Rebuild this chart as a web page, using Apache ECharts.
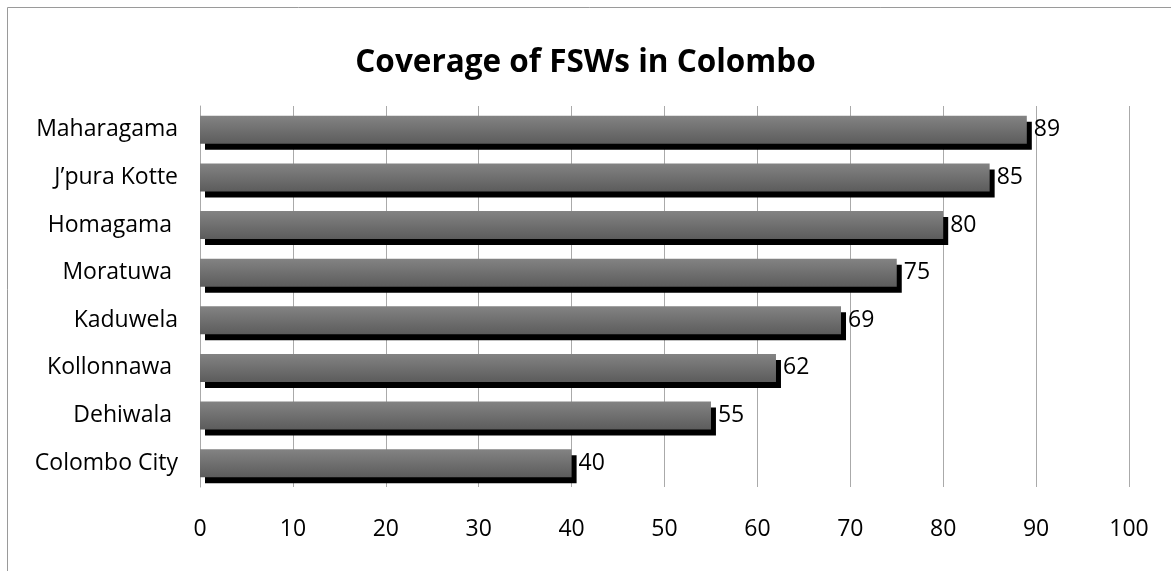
<!DOCTYPE html>
<html>
<head>
<meta charset="utf-8">
<script src="https://cdn.jsdelivr.net/npm/echarts@6/dist/echarts.min.js"></script>
<style>
  html, body { margin: 0; padding: 0; background: #fff; }
  #chart { width: 1171px; height: 571px; }
</style>
</head>
<body>
<div id="chart"></div>
<script>
// Districts, listed top to bottom
const districts = ['Maharagama', 'J\u2019pura Kotte', 'Homagama ', 'Moratuwa ', 'Kaduwela', 'Kollonnawa ', 'Dehiwala ', 'Colombo City'];
// Coverage (%) for each district
const coverage = [89, 85, 80, 75, 69, 62, 55, 40];
// Value axis ticks
const axisMin = 0;
const axisMax = 100;
const axisStep = 10;

const FONT = '"Open Sans", "Noto Sans", sans-serif';

const chart = echarts.init(document.getElementById('chart'), null, { renderer: 'canvas' });

chart.setOption({
  animation: false,
  backgroundColor: '#ffffff',
  title: {
    text: 'Coverage of FSWs in Colombo',
    left: 'center',
    top: 42,
    textStyle: { fontFamily: FONT, fontSize: 31.5, fontWeight: 'bold', color: '#000' }
  },
  graphic: [{
    type: 'rect',
    silent: true,
    shape: { x: 7.5, y: 7.5, width: 1300, height: 1300 },
    style: { fill: 'none', stroke: '#9a9a9a', lineWidth: 1 }
  }],
  grid: { left: 200, right: 42, top: 106, bottom: 84, containLabel: false },
  xAxis: {
    type: 'value',
    min: axisMin,
    max: axisMax,
    interval: axisStep,
    axisLine: { show: false },
    axisTick: { show: false },
    splitLine: { show: true, lineStyle: { color: '#aaaaaa', width: 1 } },
    axisLabel: { fontFamily: FONT, fontSize: 23, color: '#000', margin: 31 }
  },
  yAxis: {
    type: 'category',
    inverse: true,
    data: districts,
    axisLine: { show: true, lineStyle: { color: '#aaaaaa', width: 1 } },
    axisTick: { show: false },
    axisLabel: { fontFamily: FONT, fontSize: 23, color: '#000', margin: 22 }
  },
  series: [{
    type: 'bar',
    data: coverage,
    barWidth: 28,
    itemStyle: {
      color: new echarts.graphic.LinearGradient(0, 0, 0, 1, [
        { offset: 0, color: '#838383' },
        { offset: 1, color: '#5c5c5c' }
      ]),
      shadowColor: '#000000',
      shadowBlur: 0,
      shadowOffsetX: 5,
      shadowOffsetY: 6
    },
    label: {
      show: true,
      position: 'right',
      distance: 7,
      fontFamily: FONT,
      fontSize: 23,
      color: '#000'
    }
  }]
});
</script>
</body>
</html>
